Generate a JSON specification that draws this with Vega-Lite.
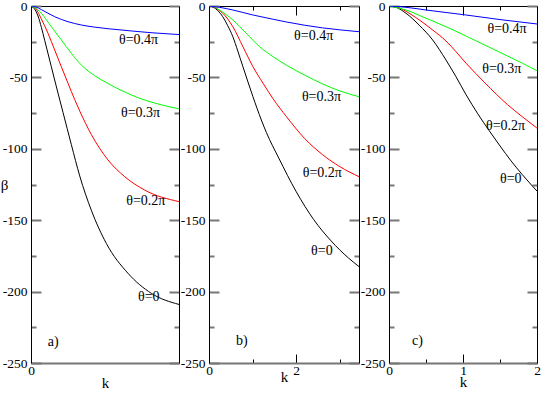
{
  "$schema": "https://vega.github.io/schema/vega-lite/v6.json",
  "padding": {"left": 0, "top": -1, "right": 0, "bottom": 0},
  "spacing": 30,
  "bounds": "flush",
  "config": {
    "view": {"stroke": null},
    "font": "Liberation Serif, Times New Roman, DejaVu Serif, serif",
    "axis": {
      "grid": false,
      "labelFont": "Liberation Serif, Times New Roman, DejaVu Serif, serif",
      "labelFontSize": 13.5,
      "titleFont": "Liberation Serif, Times New Roman, DejaVu Serif, serif",
      "titleFontSize": 15,
      "titleFontWeight": "normal",
      "labelColor": "black",
      "titleColor": "black",
      "labelFlush": false,
      "labelOverlap": false
    }
  },
  "datasets": {
    "curves": [
      {"panel": "a", "theta": "0", "k": 0, "beta": 0},
      {"panel": "a", "theta": "0", "k": 0.04, "beta": -1.8},
      {"panel": "a", "theta": "0", "k": 0.0875, "beta": -7},
      {"panel": "a", "theta": "0", "k": 0.13, "beta": -15},
      {"panel": "a", "theta": "0", "k": 0.171, "beta": -24},
      {"panel": "a", "theta": "0", "k": 0.254, "beta": -42.5},
      {"panel": "a", "theta": "0", "k": 0.3375, "beta": -61},
      {"panel": "a", "theta": "0", "k": 0.4, "beta": -74.5},
      {"panel": "a", "theta": "0", "k": 0.504, "beta": -97},
      {"panel": "a", "theta": "0", "k": 0.609, "beta": -119},
      {"panel": "a", "theta": "0", "k": 0.754, "beta": -143},
      {"panel": "a", "theta": "0", "k": 0.941, "beta": -166.2},
      {"panel": "a", "theta": "0", "k": 1.2125, "beta": -187.2},
      {"panel": "a", "theta": "0", "k": 1.504, "beta": -201.2},
      {"panel": "a", "theta": "0", "k": 1.85, "beta": -209},

      {"panel": "a", "theta": "0.2π", "k": 0, "beta": 0},
      {"panel": "a", "theta": "0.2π", "k": 0.06, "beta": -2},
      {"panel": "a", "theta": "0.2π", "k": 0.129, "beta": -9},
      {"panel": "a", "theta": "0.2π", "k": 0.2125, "beta": -19.1},
      {"panel": "a", "theta": "0.2π", "k": 0.296, "beta": -30.8},
      {"panel": "a", "theta": "0.2π", "k": 0.379, "beta": -42.5},
      {"panel": "a", "theta": "0.2π", "k": 0.4625, "beta": -54.1},
      {"panel": "a", "theta": "0.2π", "k": 0.546, "beta": -65.5},
      {"panel": "a", "theta": "0.2π", "k": 0.609, "beta": -73.5},
      {"panel": "a", "theta": "0.2π", "k": 0.754, "beta": -90},
      {"panel": "a", "theta": "0.2π", "k": 0.9625, "beta": -107.8},
      {"panel": "a", "theta": "0.2π", "k": 1.171, "beta": -119.5},
      {"panel": "a", "theta": "0.2π", "k": 1.421, "beta": -128.9},
      {"panel": "a", "theta": "0.2π", "k": 1.85, "beta": -137},

      {"panel": "a", "theta": "0.3π", "k": 0, "beta": 0},
      {"panel": "a", "theta": "0.3π", "k": 0.05, "beta": -1},
      {"panel": "a", "theta": "0.3π", "k": 0.129, "beta": -5.1},
      {"panel": "a", "theta": "0.3π", "k": 0.254, "beta": -14.5},
      {"panel": "a", "theta": "0.3π", "k": 0.379, "beta": -23.8},
      {"panel": "a", "theta": "0.3π", "k": 0.504, "beta": -33.1},
      {"panel": "a", "theta": "0.3π", "k": 0.629, "beta": -41.3},
      {"panel": "a", "theta": "0.3π", "k": 0.796, "beta": -48.8},
      {"panel": "a", "theta": "0.3π", "k": 0.9625, "beta": -54.3},
      {"panel": "a", "theta": "0.3π", "k": 1.125, "beta": -59},
      {"panel": "a", "theta": "0.3π", "k": 1.35, "beta": -64.5},
      {"panel": "a", "theta": "0.3π", "k": 1.6, "beta": -68.8},
      {"panel": "a", "theta": "0.3π", "k": 1.85, "beta": -72},

      {"panel": "a", "theta": "0.4π", "k": 0, "beta": 0},
      {"panel": "a", "theta": "0.4π", "k": 0.06, "beta": -0.6},
      {"panel": "a", "theta": "0.4π", "k": 0.129, "beta": -2.5},
      {"panel": "a", "theta": "0.4π", "k": 0.296, "beta": -7.5},
      {"panel": "a", "theta": "0.4π", "k": 0.4625, "beta": -11},
      {"panel": "a", "theta": "0.4π", "k": 0.629, "beta": -13.3},
      {"panel": "a", "theta": "0.4π", "k": 0.796, "beta": -14.8},
      {"panel": "a", "theta": "0.4π", "k": 0.9625, "beta": -15.9},
      {"panel": "a", "theta": "0.4π", "k": 1.2, "beta": -17.2},
      {"panel": "a", "theta": "0.4π", "k": 1.5, "beta": -18.7},
      {"panel": "a", "theta": "0.4π", "k": 1.85, "beta": -20},

      {"panel": "b", "theta": "0", "k": 0, "beta": 0},
      {"panel": "b", "theta": "0", "k": 0.1, "beta": -0.8},
      {"panel": "b", "theta": "0", "k": 0.2, "beta": -3.2},
      {"panel": "b", "theta": "0", "k": 0.316, "beta": -7.5},
      {"panel": "b", "theta": "0", "k": 0.43, "beta": -13.8},
      {"panel": "b", "theta": "0", "k": 0.547, "beta": -21.5},
      {"panel": "b", "theta": "0", "k": 0.66, "beta": -31.5},
      {"panel": "b", "theta": "0", "k": 0.778, "beta": -42.5},
      {"panel": "b", "theta": "0", "k": 1.008, "beta": -63.5},
      {"panel": "b", "theta": "0", "k": 1.2, "beta": -79.8},
      {"panel": "b", "theta": "0", "k": 1.315, "beta": -88.5},
      {"panel": "b", "theta": "0", "k": 1.6, "beta": -106.5},
      {"panel": "b", "theta": "0", "k": 2.0, "beta": -130},
      {"panel": "b", "theta": "0", "k": 2.4, "beta": -149.5},
      {"panel": "b", "theta": "0", "k": 2.8, "beta": -164.5},
      {"panel": "b", "theta": "0", "k": 3.2, "beta": -176.5},
      {"panel": "b", "theta": "0", "k": 3.44, "beta": -182.5},

      {"panel": "b", "theta": "0.2π", "k": 0, "beta": 0},
      {"panel": "b", "theta": "0.2π", "k": 0.1, "beta": -0.6},
      {"panel": "b", "theta": "0.2π", "k": 0.2, "beta": -2.4},
      {"panel": "b", "theta": "0.2π", "k": 0.316, "beta": -5.1},
      {"panel": "b", "theta": "0.2π", "k": 0.547, "beta": -14.5},
      {"panel": "b", "theta": "0.2π", "k": 0.778, "beta": -28.5},
      {"panel": "b", "theta": "0.2π", "k": 1.008, "beta": -42.5},
      {"panel": "b", "theta": "0.2π", "k": 1.239, "beta": -54.1},
      {"panel": "b", "theta": "0.2π", "k": 1.47, "beta": -65},
      {"panel": "b", "theta": "0.2π", "k": 1.777, "beta": -77.5},
      {"panel": "b", "theta": "0.2π", "k": 2.2, "beta": -93},
      {"panel": "b", "theta": "0.2π", "k": 2.6, "beta": -104},
      {"panel": "b", "theta": "0.2π", "k": 3.0, "beta": -112.5},
      {"panel": "b", "theta": "0.2π", "k": 3.44, "beta": -119.5},

      {"panel": "b", "theta": "0.3π", "k": 0, "beta": 0},
      {"panel": "b", "theta": "0.3π", "k": 0.1, "beta": -0.4},
      {"panel": "b", "theta": "0.3π", "k": 0.238, "beta": -2.8},
      {"panel": "b", "theta": "0.3π", "k": 0.547, "beta": -9.8},
      {"panel": "b", "theta": "0.3π", "k": 0.854, "beta": -19.1},
      {"panel": "b", "theta": "0.3π", "k": 1.161, "beta": -28.5},
      {"panel": "b", "theta": "0.3π", "k": 1.47, "beta": -35.5},
      {"panel": "b", "theta": "0.3π", "k": 1.777, "beta": -41.5},
      {"panel": "b", "theta": "0.3π", "k": 2.2, "beta": -48.5},
      {"panel": "b", "theta": "0.3π", "k": 2.6, "beta": -54.5},
      {"panel": "b", "theta": "0.3π", "k": 3.0, "beta": -59.5},
      {"panel": "b", "theta": "0.3π", "k": 3.44, "beta": -63.5},

      {"panel": "b", "theta": "0.4π", "k": 0, "beta": 0},
      {"panel": "b", "theta": "0.4π", "k": 0.238, "beta": -0.9},
      {"panel": "b", "theta": "0.4π", "k": 0.547, "beta": -2.8},
      {"panel": "b", "theta": "0.4π", "k": 1.008, "beta": -6.3},
      {"panel": "b", "theta": "0.4π", "k": 1.47, "beta": -9.3},
      {"panel": "b", "theta": "0.4π", "k": 1.777, "beta": -11.2},
      {"panel": "b", "theta": "0.4π", "k": 2.2, "beta": -13.5},
      {"panel": "b", "theta": "0.4π", "k": 2.6, "beta": -15.3},
      {"panel": "b", "theta": "0.4π", "k": 3.0, "beta": -16.7},
      {"panel": "b", "theta": "0.4π", "k": 3.44, "beta": -18},

      {"panel": "c", "theta": "0", "k": 0, "beta": 0},
      {"panel": "c", "theta": "0", "k": 0.1, "beta": -1},
      {"panel": "c", "theta": "0", "k": 0.23, "beta": -5.1},
      {"panel": "c", "theta": "0", "k": 0.41, "beta": -13.5},
      {"panel": "c", "theta": "0", "k": 0.59, "beta": -23.8},
      {"panel": "c", "theta": "0", "k": 0.77, "beta": -37.8},
      {"panel": "c", "theta": "0", "k": 0.905, "beta": -49.5},
      {"panel": "c", "theta": "0", "k": 1.04, "beta": -62},
      {"panel": "c", "theta": "0", "k": 1.2, "beta": -75.5},
      {"panel": "c", "theta": "0", "k": 1.35, "beta": -87},
      {"panel": "c", "theta": "0", "k": 1.5, "beta": -98},
      {"panel": "c", "theta": "0", "k": 1.65, "beta": -108.5},
      {"panel": "c", "theta": "0", "k": 1.8, "beta": -118},
      {"panel": "c", "theta": "0", "k": 2.0, "beta": -129.6},

      {"panel": "c", "theta": "0.2π", "k": 0, "beta": 0},
      {"panel": "c", "theta": "0.2π", "k": 0.1, "beta": -0.6},
      {"panel": "c", "theta": "0.2π", "k": 0.185, "beta": -2.5},
      {"panel": "c", "theta": "0.2π", "k": 0.41, "beta": -9.8},
      {"panel": "c", "theta": "0.2π", "k": 0.59, "beta": -16.8},
      {"panel": "c", "theta": "0.2π", "k": 0.77, "beta": -24.5},
      {"panel": "c", "theta": "0.2π", "k": 0.905, "beta": -32},
      {"panel": "c", "theta": "0.2π", "k": 1.04, "beta": -40},
      {"panel": "c", "theta": "0.2π", "k": 1.3, "beta": -54},
      {"panel": "c", "theta": "0.2π", "k": 1.6, "beta": -69},
      {"panel": "c", "theta": "0.2π", "k": 1.8, "beta": -77.5},
      {"panel": "c", "theta": "0.2π", "k": 2.0, "beta": -85.5},

      {"panel": "c", "theta": "0.3π", "k": 0, "beta": 0},
      {"panel": "c", "theta": "0.3π", "k": 0.23, "beta": -2.8},
      {"panel": "c", "theta": "0.3π", "k": 0.5, "beta": -8.6},
      {"panel": "c", "theta": "0.3π", "k": 0.77, "beta": -14.5},
      {"panel": "c", "theta": "0.3π", "k": 1.04, "beta": -21},
      {"panel": "c", "theta": "0.3π", "k": 1.3, "beta": -27.5},
      {"panel": "c", "theta": "0.3π", "k": 1.6, "beta": -35},
      {"panel": "c", "theta": "0.3π", "k": 1.8, "beta": -40},
      {"panel": "c", "theta": "0.3π", "k": 2.0, "beta": -45.3},

      {"panel": "c", "theta": "0.4π", "k": 0, "beta": 0},
      {"panel": "c", "theta": "0.4π", "k": 0.23, "beta": -0.9},
      {"panel": "c", "theta": "0.4π", "k": 0.5, "beta": -2.8},
      {"panel": "c", "theta": "0.4π", "k": 1.04, "beta": -6.3},
      {"panel": "c", "theta": "0.4π", "k": 1.5, "beta": -9.5},
      {"panel": "c", "theta": "0.4π", "k": 2.0, "beta": -12.6}
    ],
    "labels": [
      {"panel": "a", "k": 1.1, "beta": -23.8, "label": "θ=0.4π"},
      {"panel": "a", "k": 1.125, "beta": -75, "label": "θ=0.3π"},
      {"panel": "a", "k": 1.19, "beta": -136.3, "label": "θ=0.2π"},
      {"panel": "a", "k": 1.3375, "beta": -203.6, "label": "θ=0"},
      {"panel": "a", "k": 0.21, "beta": -235, "label": "a)"},
      {"panel": "b", "k": 1.95, "beta": -20.8, "label": "θ=0.4π"},
      {"panel": "b", "k": 2.13, "beta": -63.5, "label": "θ=0.3π"},
      {"panel": "b", "k": 2.15, "beta": -116.7, "label": "θ=0.2π"},
      {"panel": "b", "k": 2.34, "beta": -171.3, "label": "θ=0"},
      {"panel": "b", "k": 0.62, "beta": -234.4, "label": "b)"},
      {"panel": "c", "k": 1.33, "beta": -16.3, "label": "θ=0.4π"},
      {"panel": "c", "k": 1.26, "beta": -44.4, "label": "θ=0.3π"},
      {"panel": "c", "k": 1.31, "beta": -83.8, "label": "θ=0.2π"},
      {"panel": "c", "k": 1.5, "beta": -121, "label": "θ=0"},
      {"panel": "c", "k": 0.31, "beta": -234.4, "label": "c)"}
    ]
  },
  "hconcat": [
    {
      "width": 148,
      "height": 357,
      "layer": [
        {
          "data": {"name": "curves"},
          "transform": [{"filter": "datum.panel === 'a'"}],
          "mark": {"type": "line", "strokeWidth": 1, "clip": true, "interpolate": "monotone"},
          "encoding": {
            "x": {"field": "k", "type": "quantitative", "scale": {"domain": [0, 1.85], "nice": false, "zero": false},
              "axis": {"orient": "bottom", "values": [0], "tickSize": -10, "labelPadding": 10, "domainColor": "#777", "domainWidth": 2, "tickColor": "black",
                "labelExpr": "'' + datum.value", "title": "k", "titleY": 24, "titleBaseline": "alphabetic"}},
            "y": {"field": "beta", "type": "quantitative", "scale": {"domain": [-250, 0], "nice": false},
              "axis": {"orient": "left", "values": [-250, -225, -200, -175, -150, -125, -100, -75, -50, -25, 0],
                "labelExpr": "datum.value % 50 === 0 ? '' + datum.value : ''",
                "tickSize": {"condition": {"test": "datum.value % 50 === 0", "value": -10}, "value": -5},
                "labelPadding": 14, "tickColor": "#777", "tickWidth": 2, "domainColor": "black",
                "title": "β", "titleAngle": 0, "titleX": -27, "titleY": 178.5, "titleAlign": "center", "titleBaseline": "middle"}},
            "color": {"field": "theta", "type": "nominal", "scale": {"domain": ["0", "0.2π", "0.3π", "0.4π"], "range": ["#000000", "#ff0000", "#00ff00", "#0000ff"]}, "legend": null}
          }
        },
        {
          "data": {"name": "labels"},
          "transform": [{"filter": "datum.panel === 'a'"}],
          "mark": {"type": "text", "align": "left", "baseline": "middle", "fontSize": 14, "font": "Liberation Serif, Times New Roman, DejaVu Serif, serif", "color": "black"},
          "encoding": {
            "x": {"field": "k", "type": "quantitative", "axis": {"orient": "top", "ticks": false, "labels": false, "title": null, "domainColor": "black"}},
            "y": {"field": "beta", "type": "quantitative",
              "axis": {"orient": "right", "values": [-250, -225, -200, -175, -150, -125, -100, -75, -50, -25, 0], "labels": false, "title": null,
                "tickSize": {"condition": {"test": "datum.value % 50 === 0", "value": -10}, "value": -5},
                "tickColor": "#777", "tickWidth": 2, "domainColor": "black"}},
            "text": {"field": "label"}
          }
        }
      ],
      "resolve": {"axis": {"x": "independent", "y": "independent"}}
    },
    {
      "width": 150,
      "height": 357,
      "layer": [
        {
          "data": {"name": "curves"},
          "transform": [{"filter": "datum.panel === 'b'"}],
          "mark": {"type": "line", "strokeWidth": 1, "clip": true, "interpolate": "monotone"},
          "encoding": {
            "x": {"field": "k", "type": "quantitative", "scale": {"domain": [0, 3.44], "nice": false, "zero": false},
              "axis": {"orient": "bottom", "values": [0, 1, 2, 3],
                "labelExpr": "datum.value % 2 === 0 ? '' + datum.value : ''",
                "tickSize": {"condition": {"test": "datum.value % 2 === 0", "value": -9}, "value": -4},
                "labelPadding": 9, "domainColor": "#777", "domainWidth": 2, "tickColor": "black",
                "title": "k", "titleY": 18, "titleBaseline": "alphabetic"}},
            "y": {"field": "beta", "type": "quantitative", "scale": {"domain": [-250, 0], "nice": false},
              "axis": {"orient": "left", "values": [-250, -225, -200, -175, -150, -125, -100, -75, -50, -25, 0],
                "labelExpr": "datum.value % 50 === 0 ? '' + datum.value : ''",
                "tickSize": {"condition": {"test": "datum.value % 50 === 0", "value": -10}, "value": -5},
                "labelPadding": 14, "tickColor": "#777", "tickWidth": 2, "domainColor": "black", "title": null}},
            "color": {"field": "theta", "type": "nominal", "scale": {"domain": ["0", "0.2π", "0.3π", "0.4π"], "range": ["#000000", "#ff0000", "#00ff00", "#0000ff"]}, "legend": null}
          }
        },
        {
          "data": {"name": "labels"},
          "transform": [{"filter": "datum.panel === 'b'"}],
          "mark": {"type": "text", "align": "left", "baseline": "middle", "fontSize": 14, "font": "Liberation Serif, Times New Roman, DejaVu Serif, serif", "color": "black"},
          "encoding": {
            "x": {"field": "k", "type": "quantitative",
              "axis": {"orient": "top", "values": [0, 1, 2, 3], "labels": false, "title": null,
                "tickSize": {"condition": {"test": "datum.value % 2 === 0", "value": -9}, "value": -4},
                "tickColor": "black", "domainColor": "black"}},
            "y": {"field": "beta", "type": "quantitative",
              "axis": {"orient": "right", "values": [-250, -225, -200, -175, -150, -125, -100, -75, -50, -25, 0], "labels": false, "title": null,
                "tickSize": {"condition": {"test": "datum.value % 50 === 0", "value": -10}, "value": -5},
                "tickColor": "#777", "tickWidth": 2, "domainColor": "black"}},
            "text": {"field": "label"}
          }
        }
      ],
      "resolve": {"axis": {"x": "independent", "y": "independent"}}
    },
    {
      "width": 148,
      "height": 357,
      "layer": [
        {
          "data": {"name": "curves"},
          "transform": [{"filter": "datum.panel === 'c'"}],
          "mark": {"type": "line", "strokeWidth": 1, "clip": true, "interpolate": "monotone"},
          "encoding": {
            "x": {"field": "k", "type": "quantitative", "scale": {"domain": [0, 2], "nice": false, "zero": false},
              "axis": {"orient": "bottom", "values": [0, 0.5, 1, 1.5, 2],
                "labelExpr": "datum.value % 1 === 0 ? '' + datum.value : ''",
                "tickSize": {"condition": {"test": "datum.value % 1 === 0", "value": -9}, "value": -4},
                "labelPadding": 9, "domainColor": "#777", "domainWidth": 2, "tickColor": "black",
                "title": "k", "titleY": 23, "titleBaseline": "alphabetic"}},
            "y": {"field": "beta", "type": "quantitative", "scale": {"domain": [-250, 0], "nice": false},
              "axis": {"orient": "left", "values": [-250, -225, -200, -175, -150, -125, -100, -75, -50, -25, 0],
                "labelExpr": "datum.value % 50 === 0 ? '' + datum.value : ''",
                "tickSize": {"condition": {"test": "datum.value % 50 === 0", "value": -10}, "value": -5},
                "labelPadding": 14, "tickColor": "#777", "tickWidth": 2, "domainColor": "black", "title": null}},
            "color": {"field": "theta", "type": "nominal", "scale": {"domain": ["0", "0.2π", "0.3π", "0.4π"], "range": ["#000000", "#ff0000", "#00ff00", "#0000ff"]}, "legend": null}
          }
        },
        {
          "data": {"name": "labels"},
          "transform": [{"filter": "datum.panel === 'c'"}],
          "mark": {"type": "text", "align": "left", "baseline": "middle", "fontSize": 14, "font": "Liberation Serif, Times New Roman, DejaVu Serif, serif", "color": "black"},
          "encoding": {
            "x": {"field": "k", "type": "quantitative",
              "axis": {"orient": "top", "values": [0, 0.5, 1, 1.5, 2], "labels": false, "title": null,
                "tickSize": {"condition": {"test": "datum.value % 1 === 0", "value": -9}, "value": -4},
                "tickColor": "black", "domainColor": "black"}},
            "y": {"field": "beta", "type": "quantitative",
              "axis": {"orient": "right", "values": [-250, -225, -200, -175, -150, -125, -100, -75, -50, -25, 0], "labels": false, "title": null,
                "tickSize": {"condition": {"test": "datum.value % 50 === 0", "value": -10}, "value": -5},
                "tickColor": "#777", "tickWidth": 2, "domainColor": "black"}},
            "text": {"field": "label"}
          }
        }
      ],
      "resolve": {"axis": {"x": "independent", "y": "independent"}}
    }
  ]
}
